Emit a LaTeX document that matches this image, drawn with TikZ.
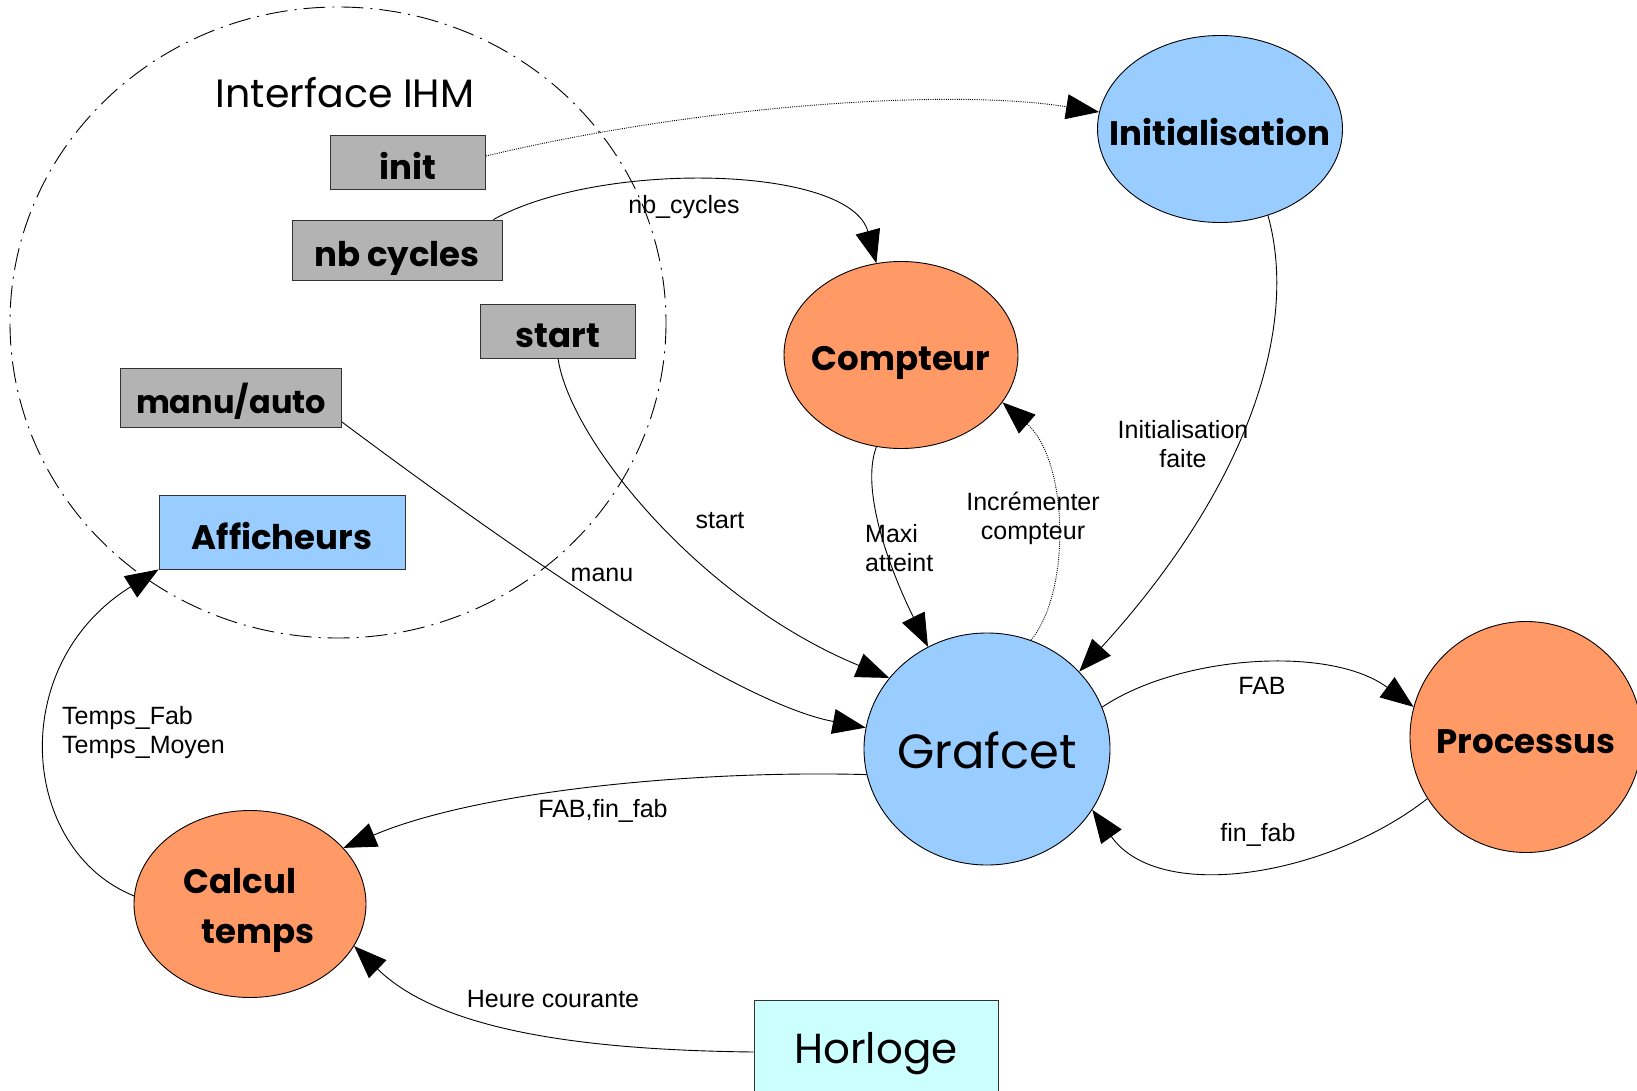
\documentclass[tikz,border=0pt]{standalone}
\usepackage{fontspec}
\setmainfont{Liberation Sans}
\newfontfamily\comicfont{Poppins}
\usetikzlibrary{arrows.meta,shapes.geometric}

\definecolor{blocblue}{HTML}{99CCFF}
\definecolor{blocorange}{HTML}{FF9966}
\definecolor{blocgray}{HTML}{B3B3B3}
\definecolor{bloccyan}{HTML}{CCFFFF}

% text of no size: centred on the node, baseline set below its centre
\newcommand\blocktext[2][-16pt]{\makebox[0pt]{\raisebox{#1}[0pt][0pt]{#2}}}

\tikzset{
  flow/.style={draw=black, line width=0.9pt, -{Triangle[length=33pt,width=25pt]}},
  dotflow/.style={flow, dash pattern=on 1pt off 1.2pt},
  lbl/.style={font=\fontsize{25}{29}\selectfont, inner sep=0pt, align=center},
  ihmbox/.style={draw=black!80, line width=0.9pt, fill=blocgray, inner sep=0pt,
    font=\comicfont\bfseries\fontsize{34}{40}\selectfont},
  bubble/.style={ellipse, draw=black, line width=0.9pt, inner sep=0pt,
    font=\comicfont\bfseries\fontsize{34}{48}\selectfont},
}

\begin{document}
\begin{tikzpicture}[x=1pt, y=-1pt]
\useasboundingbox (0,0) rectangle (1637,1091);

% IHM boundary
\draw[line width=0.9pt, dash pattern=on 22pt off 7pt on 2pt off 7pt]
  (338,322.5) ellipse [x radius=328, y radius=315.5];
\node[font=\comicfont\fontsize{39.5}{42}\selectfont, inner sep=0pt, anchor=base] (ihm) at (345,108) {Interface IHM};

% operator inputs
\node[ihmbox, minimum width=155pt, minimum height=54pt] (init)  at (408,162) {\blocktext[-18pt]{init}};
\node[ihmbox, minimum width=210pt, minimum height=60pt] (nbc)   at (397,250) {\blocktext[-17pt]{nb cycles}};
\node[ihmbox, minimum width=155pt, minimum height=54pt] (start) at (558,331) {\blocktext[-16pt]{start}};
\node[ihmbox, minimum width=221pt, minimum height=59pt,
      font=\comicfont\bfseries\fontsize{32}{40}\selectfont] (manu) at (231,398) {\blocktext[-15pt]{manu/auto}};
\node[ihmbox, fill=blocblue, minimum width=246pt, minimum height=74pt] (aff) at (282,532) {\blocktext[-17pt]{Afficheurs}};

% functional blocks
\node[bubble, fill=blocblue, minimum width=245pt, minimum height=187pt] (initl) at (1220,129) {\blocktext[-17pt]{Initialisation}};
\node[bubble, fill=blocorange, minimum width=234pt, minimum height=187pt] (cpt) at (901,355) {\blocktext[-15pt]{Compteur}};
\node[bubble, fill=blocblue, minimum width=246pt, minimum height=232pt,
      font=\comicfont\fontsize{48}{52}\selectfont] (graf) at (987,749) {\blocktext[-19pt]{Grafcet}};
\node[bubble, fill=blocorange, minimum width=232pt, minimum height=231pt] (proc) at (1526,737) {\blocktext[-16pt]{Processus}};
\node[bubble, fill=blocorange, minimum width=232pt, minimum height=187pt] (calc) at (250,904)
  {\blocktext[11pt]{\hspace*{-20pt}Calcul}\blocktext[-39pt]{\hspace*{16pt}temps}};
\node[draw=black!80, line width=0.9pt, fill=bloccyan, minimum width=244pt, minimum height=110pt,
      inner sep=0pt] (horl) at (876,1055) {};
\node[font=\comicfont\fontsize{42}{46}\selectfont, inner sep=0pt, anchor=base] (horltxt) at (876,1063) {Horloge};

% signals
\draw[dotflow] (init.east |- 0,156) .. controls (700,105) and (950,88) .. (initl.172);
\draw[flow] ([xshift=-9pt]nbc.north east) .. controls (600,160) and (850,165) .. (cpt.105);
\node[lbl] (lnbc) at (684,207) {nb\_cycles};
\draw[flow] (start.south) .. controls (570,440) and (700,600) .. (graf.144);
\node[lbl] (lstart) at (720,521) {start};
\draw[flow] (manu.east |- 0,422) .. controls (460,510) and (720,700) .. (graf.170);
\node[lbl] (lmanu) at (602,575) {manu};
\draw[flow] (cpt.255) .. controls (860,490) and (890,570) .. (graf.120);
\node[lbl, anchor=west, align=left] (lmaxi) at (865,548) {Maxi\\atteint};
\draw[dotflow] (graf.68) .. controls (1072,590) and (1068,460) .. (cpt.-25);
\node[lbl] (linc) at (1033,518) {Incrémenter\\compteur};
\draw[flow] (initl.-61) .. controls (1300,330) and (1245,490) .. (graf.40);
\node[lbl] (linit) at (1183,444) {Initialisation\\faite};
\draw[flow] (graf.20) .. controls (1180,655) and (1330,645) .. (proc.165);
\node[lbl] (lfab) at (1262,686) {FAB};
\draw[flow] (proc.212) .. controls (1330,875) and (1160,905) .. (graf.-30);
\node[lbl] (lfin) at (1258,835) {fin\_fab};
\draw[flow] (graf.192) .. controls (700,770) and (480,790) .. (calc.31);
\node[lbl] (lff) at (603,811) {FAB,fin\_fab};
\draw[flow] (calc.176) .. controls (20,850) and (5,665) .. (aff.south west);
\node[lbl, anchor=west, align=left] (ltemps) at (62,733) {Temps\_Fab\\Temps\_Moyen};
\draw[flow] (horl.west |- 0,1052) .. controls (580,1050) and (440,1030) .. (calc.-22);
\node[lbl] (lheure) at (553,999) {Heure courante};
\end{tikzpicture}
\end{document}
